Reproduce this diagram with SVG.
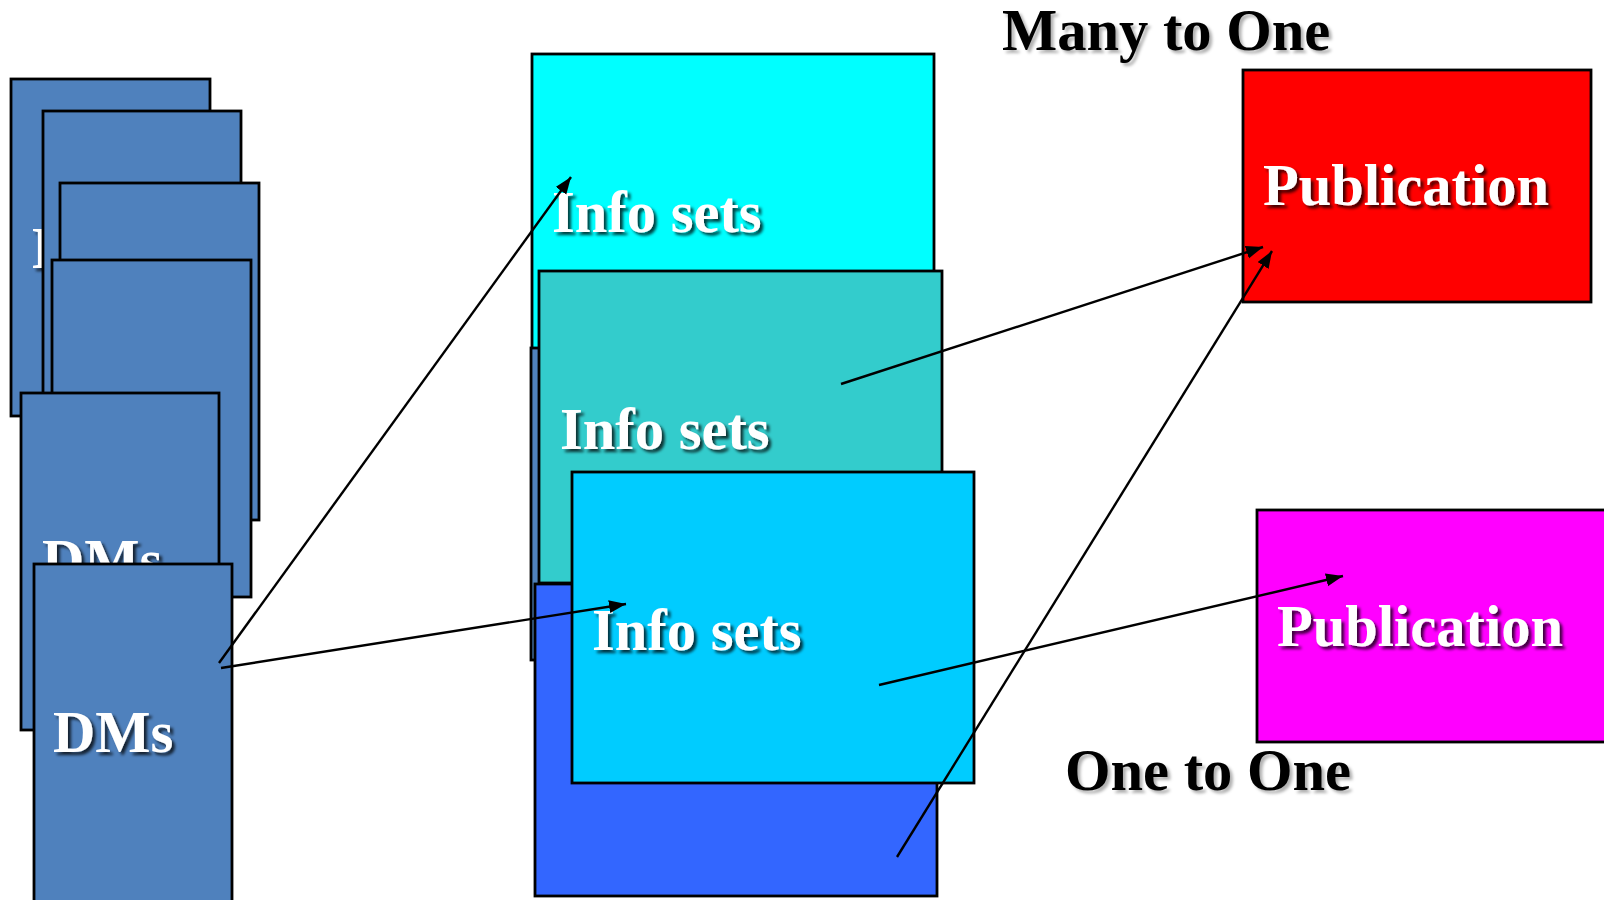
<svg xmlns="http://www.w3.org/2000/svg" width="1604" height="900" viewBox="0 0 1604 900">
<defs>
<style>
.box{stroke:#000;stroke-width:2.8}
.dm{fill:#4F81BD}
.lbl{font-family:"Liberation Serif","Times New Roman",serif;font-weight:bold;font-size:58.5px}
.w{fill:#fff;filter:url(#sh)}
.k{fill:#000;filter:url(#shk)}
.con{stroke:#000;stroke-width:2.4;fill:none;marker-end:url(#ah)}
</style>
<filter id="sh" x="-10%" y="-20%" width="130%" height="150%">
<feDropShadow dx="3" dy="3" stdDeviation="1.4" flood-color="#000" flood-opacity="0.75"/>
</filter>
<filter id="shk" x="-10%" y="-20%" width="130%" height="150%">
<feDropShadow dx="3" dy="3" stdDeviation="1.6" flood-color="#000" flood-opacity="0.3"/>
</filter>
<marker id="ah" markerUnits="userSpaceOnUse" markerWidth="18" markerHeight="14" refX="17" refY="6.5" orient="auto">
<path d="M0,0 L17,6.5 L0,13 z" fill="#000"/>
</marker>
</defs>
<rect width="1604" height="900" fill="#fff"/>

<g id="dm1"><rect class="box dm" x="11" y="79" width="199" height="337"/><text class="lbl w" x="32" y="268">DMs</text></g>
<g id="dm2"><rect class="box dm" x="43" y="111" width="198" height="337"/></g>
<g id="dm3"><rect class="box dm" x="60" y="183" width="199" height="337"/></g>
<g id="dm4"><rect class="box dm" x="52" y="260" width="199" height="337"/></g>
<g id="dm5"><rect class="box dm" x="21" y="393" width="198" height="337"/><text class="lbl w" x="42" y="580">DMs</text></g>
<g id="dm6"><rect class="box dm" x="34" y="564" width="198" height="340"/><text class="lbl w" x="53" y="752">DMs</text></g>

<g id="info1"><rect class="box" fill="#00FFFF" x="532" y="54" width="402" height="312"/><text class="lbl w" x="552" y="232">Info sets</text></g>
<g id="info-back"><rect class="box dm" x="531" y="348" width="402" height="312"/></g>
<g id="info2"><rect class="box" fill="#33CCCC" x="539" y="271" width="403" height="312"/><text class="lbl w" x="560" y="449">Info sets</text></g>
<g id="info4"><rect class="box" fill="#3366FF" x="535" y="584" width="402" height="312"/></g>
<g id="info3"><rect class="box" fill="#00CCFF" x="572" y="472" width="402" height="311"/><text class="lbl w" x="592" y="650">Info sets</text></g>

<g id="pub1"><rect class="box" fill="#FF0000" x="1243" y="70" width="348" height="232"/><text class="lbl w" x="1263" y="205">Publication</text></g>
<g id="pub2"><rect class="box" fill="#FF00FF" x="1257" y="510" width="350" height="232"/><text class="lbl w" x="1277" y="646">Publication</text></g>

<g id="title1"><text class="lbl k" x="1002" y="50">Many to One</text></g>
<g id="title2"><text class="lbl k" x="1065" y="790">One to One</text></g>

<g id="connectors">
<line class="con" x1="219" y1="663" x2="571" y2="177"/>
<line class="con" x1="221" y1="668" x2="626" y2="604"/>
<line class="con" x1="841" y1="384" x2="1263" y2="247"/>
<line class="con" x1="897" y1="857" x2="1272" y2="251"/>
<line class="con" x1="879" y1="685" x2="1343" y2="576"/>
</g>
</svg>
